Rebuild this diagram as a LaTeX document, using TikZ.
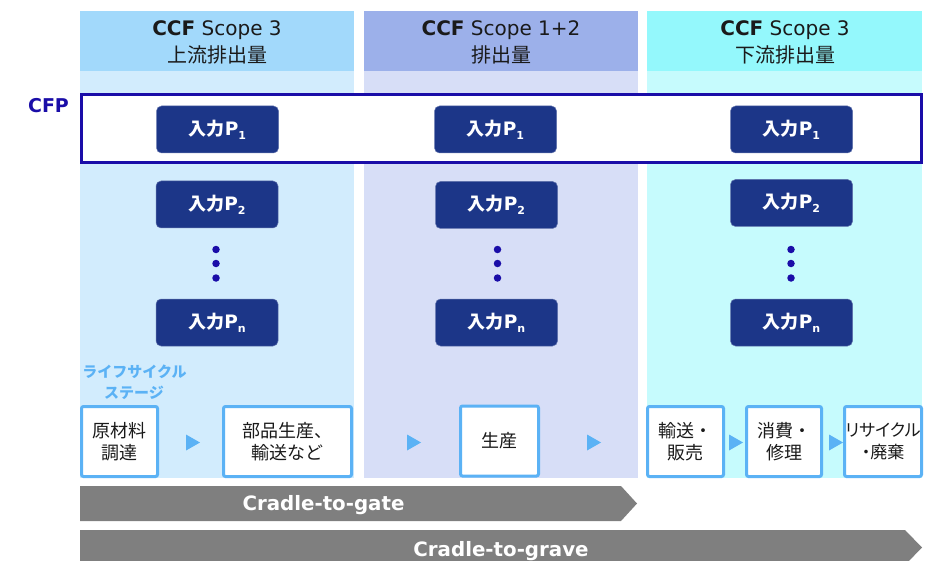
\documentclass[tikz,border=0pt]{standalone}
\usepackage{fontspec}
\setmainfont{DejaVu Sans}
\newfontfamily\jp{Noto Sans CJK JP}
\newfontfamily\jpp[RawFeature=+palt]{Noto Sans CJK JP}
\definecolor{hdrA}{HTML}{A2D9FB}
\definecolor{bodyA}{HTML}{D2ECFD}
\definecolor{hdrB}{HTML}{9CB0EA}
\definecolor{bodyB}{HTML}{D7DEF7}
\definecolor{hdrC}{HTML}{94F8FC}
\definecolor{bodyC}{HTML}{C6FBFD}
\definecolor{navy}{HTML}{1C3688}
\definecolor{cfpblue}{HTML}{1A0DA8}
\definecolor{stageblue}{HTML}{5BB2F5}
\definecolor{arrowgray}{HTML}{7F7F7F}
\definecolor{txt}{HTML}{1A1A1A}
\newcommand{\inp}[1]{{\jp\bfseries\fontsize{18}{20}\selectfont 入力}\textbf{P}\raisebox{-0.4ex}{\fontsize{11}{11}\selectfont\bfseries #1}}
\begin{document}
\begin{tikzpicture}[x=1pt,y=-1pt,
  hdrtop/.style={font=\fontsize{20}{22}\selectfont, text=txt, inner sep=0pt, anchor=base},
  hdrbot/.style={font=\jp\fontsize{20}{22}\selectfont, text=txt, inner sep=0pt},
  inbox/.style={fill=navy, draw=navy!70!white, line width=0.5pt, rounded corners=5pt, minimum width=122pt, minimum height=47pt, text=white, font=\fontsize{18.5}{20}\selectfont, inner sep=0pt},
  dot/.style={circle, fill=cfpblue, minimum size=7.5pt, inner sep=0pt},
  stagebox/.style={draw=stageblue, line width=3pt, fill=white, rounded corners=2pt, minimum height=70pt, align=center, font=\jp\fontsize{18}{22}\selectfont, text=txt, inner sep=0pt},
  tri/.style={fill=stageblue},
  bigarrow/.style={fill=arrowgray},
  arrowtext/.style={text=white, font=\bfseries\fontsize{19.8}{22}\selectfont, inner sep=0pt}
]
\useasboundingbox (0,0) rectangle (925,561);
\clip (0,0) rectangle (925,561);

% column backgrounds
\fill[bodyA] (80,71) rectangle (354,478);
\fill[hdrA] (80,11) rectangle (354,71);
\fill[bodyB] (364,71) rectangle (638,478);
\fill[hdrB] (364,11) rectangle (638,71);
\fill[bodyC] (647,71) rectangle (922,478);
\fill[hdrC] (647,11) rectangle (922,71);

% headers
\node[hdrtop] (h1a) at (217,36) {\textbf{CCF} Scope 3};
\node[hdrbot] (h1b) at (217,54.5) {上流排出量};
\node[hdrtop] (h2a) at (501,36) {\textbf{CCF} Scope 1+2};
\node[hdrbot] (h2b) at (501,54.5) {排出量};
\node[hdrtop] (h3a) at (785,36) {\textbf{CCF} Scope 3};
\node[hdrbot] (h3b) at (785,54.5) {下流排出量};

% CFP frame
\draw[cfpblue, line width=3pt, fill=white] (81.5,94.5) rectangle (921.5,162.5);
\node[text=cfpblue, font=\bfseries\fontsize{19}{21}\selectfont, inner sep=0pt] (cfp) at (48.5,106) {CFP};

% input boxes
\node[inbox] (a1) at (217.5,129.5) {\inp{1}};
\node[inbox] (a2) at (217,204.5) {\inp{2}};
\node[inbox] (an) at (217,322.5) {\inp{n}};
\node[inbox] (b1) at (495.5,129.5) {\inp{1}};
\node[inbox] (b2) at (496.5,205) {\inp{2}};
\node[inbox] (bn) at (496.5,322.5) {\inp{n}};
\node[inbox] (c1) at (791.5,129.5) {\inp{1}};
\node[inbox] (c2) at (791.5,203) {\inp{2}};
\node[inbox] (cn) at (791.5,322.5) {\inp{n}};

% dots
\foreach \x/\c in {216/a, 497.5/b, 791/c}{
  \node[dot] (\c d1) at (\x,249.5) {};
  \node[dot] (\c d2) at (\x,263.5) {};
  \node[dot] (\c d3) at (\x,278) {};
}

% lifecycle label
\node[text=stageblue, font=\jp\bfseries\fontsize{15}{17}\selectfont, inner sep=0pt] (lc1) at (134.5,371.5) {ライフサイクル};
\node[text=stageblue, font=\jp\bfseries\fontsize{15}{17}\selectfont, inner sep=0pt] (lc2) at (134,392.5) {ステージ};

% stage boxes
\node[stagebox, minimum width=76pt] (s1) at (119.5,441.5) {原材料\\調達};
\node[stagebox, minimum width=128pt] (s2) at (287.5,441.5) {部品生産、\\輸送など};
\node[stagebox, minimum width=78pt] (s3) at (499.5,441) {生産};
\node[stagebox, minimum width=76pt] (s4) at (685.5,441.5) {輸送・\\販売};
\node[stagebox, minimum width=75pt] (s5) at (784,441.5) {消費・\\修理};
\node[stagebox, minimum width=77pt, font=\jpp\fontsize{17}{22}\selectfont] (s6) at (883,441.5) {リサイクル\\・廃棄};

% triangles
\foreach \x in {193,414,594,736,836}{
  \fill[tri] (\x,442.5) ++(-7,-8) -- ++(14,8) -- ++(-14,8) -- cycle;
}

% big arrows
\fill[bigarrow] (80,486) -- (621,486) -- (637,503.5) -- (621,521) -- (80,521) -- cycle;
\node[arrowtext] (gate) at (323.5,505) {Cradle-to-gate};
\fill[bigarrow] (80,530) -- (905,530) -- (922,547.5) -- (905,565) -- (80,565) -- cycle;
\node[arrowtext] (grave) at (501,551) {Cradle-to-grave};
\end{tikzpicture}
\end{document}
